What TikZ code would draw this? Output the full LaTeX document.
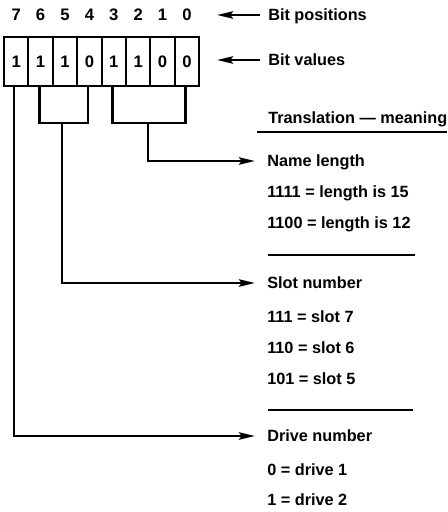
\documentclass[tikz,border=0pt]{standalone}
\usepackage{fontspec}
\setmainfont{Liberation Sans}
\usetikzlibrary{arrows.meta}
\begin{document}
\begin{tikzpicture}[x=0.75pt,y=-0.75pt,
  lw/.style={line width=1.9pt},
  tip/.style={lw,-{Stealth[length=12pt,width=5.5pt,inset=2pt]}},
  txt/.style={anchor=west,inner sep=0pt,font=\bfseries\fontsize{12.2}{14}\selectfont,text height=8.7pt,text depth=0pt},
  bitcell/.style={draw,line width=1.6pt,minimum width=18.3pt,minimum height=36.75pt,inner sep=0pt,font=\bfseries\fontsize{12.5}{14}\selectfont},
  bitpos/.style={inner sep=0pt,font=\bfseries\fontsize{12.5}{14}\selectfont,text height=8.7pt,text depth=0pt}
]
\useasboundingbox (0,0) rectangle (448,512);
% bit cells
\foreach \b/\v [count=\i from 0] in {7/1,6/1,5/1,4/0,3/1,2/1,1/0,0/0}{
  \node[bitcell] (c\b) at ({4+24.4*(\i+0.5)},61.5) {\v};
  \node[bitpos] (p\b) at ({4+24.4*(\i+0.5)},15) {\b};
}
% right-hand labels
\node[txt] (bp) at (268,15) {Bit positions};
\node[txt] (bv) at (268,60) {Bit values};
\node[txt] (tr) at (268,118) {Translation — meaning};
\node[txt] (nl) at (267,161) {Name length};
\node[txt] (l15) at (267,192) {1111 = length is 15};
\node[txt] (l12) at (267,223) {1100 = length is 12};
\node[txt] (sn) at (267,283) {Slot number};
\node[txt] (s7) at (267,317) {111 = slot 7};
\node[txt] (s6) at (267,348) {110 = slot 6};
\node[txt] (s5) at (267,379) {101 = slot 5};
\node[txt] (dn) at (267,436) {Drive number};
\node[txt] (d1) at (267,470) {0 = drive 1};
\node[txt] (d2) at (267,500) {1 = drive 2};
% helper coordinates
\coordinate (pa) at (217,15);
\coordinate (va) at (217,60);
\coordinate (ul1) at (257,132); \coordinate (ul2) at (447,132);
\coordinate (sa1) at (268,255); \coordinate (sa2) at (415,255);
\coordinate (sb1) at (268,410); \coordinate (sb2) at (413,410);
\coordinate (sbr) at (62,123);
\coordinate (nbr) at (148,123);
% header arrows
\draw[tip,shorten <=6pt] (bp.west) -- (pa);
\draw[tip,shorten <=6pt] (bv.west) -- (va);
% rules
\draw[lw] (ul1) -- (ul2);
\draw[lw] (sa1) -- (sa2);
\draw[lw] (sb1) -- (sb2);
% name length bracket
\draw[lw] ([xshift=-1pt]c3.south) -- ([xshift=-1pt]c3.south |- nbr) -- ([xshift=-1pt]c0.south |- nbr) -- ([xshift=-1pt]c0.south);
\draw[tip,shorten >=9pt] (nbr) |- (nl.west);
% slot bracket
\draw[lw] ([xshift=-1pt]c6.south) -- ([xshift=-1pt]c6.south |- sbr) -- ([xshift=-1pt]c4.south |- sbr) -- ([xshift=-1pt]c4.south);
\draw[tip,shorten >=9pt] (sbr) |- (sn.west);
% drive line
\draw[tip,shorten >=9pt] ([xshift=-1.5pt]c7.south) |- (dn.west);
\end{tikzpicture}
\end{document}
